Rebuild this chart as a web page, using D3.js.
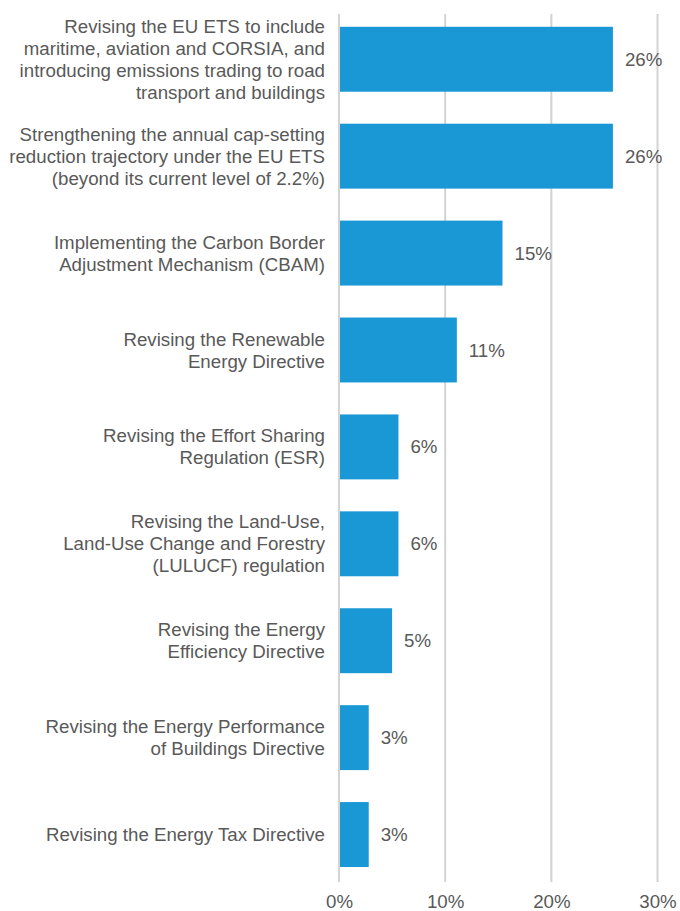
<!DOCTYPE html>
<html>
<head>
<meta charset="utf-8">
<script src="https://cdn.jsdelivr.net/npm/d3@7"></script>
<style>
  html, body { margin: 0; padding: 0; background: #fff; }
  svg { display: block; }
  text { font-family: "Liberation Sans", Arial, Helvetica, sans-serif; fill: #595959; }
</style>
</head>
<body>
<svg id="chart" width="680" height="911"></svg>
<script>
const categories = [
  ["Revising the EU ETS to include", "maritime, aviation and CORSIA, and", "introducing emissions trading to road", "transport and buildings"],
  ["Strengthening the annual cap-setting", "reduction trajectory under the EU ETS", "(beyond its current level of 2.2%)"],
  ["Implementing the Carbon Border", "Adjustment Mechanism (CBAM)"],
  ["Revising the Renewable", "Energy Directive"],
  ["Revising the Effort Sharing", "Regulation (ESR)"],
  ["Revising the Land-Use,", "Land-Use Change and Forestry", "(LULUCF) regulation"],
  ["Revising the Energy", "Efficiency Directive"],
  ["Revising the Energy Performance", "of Buildings Directive"],
  ["Revising the Energy Tax Directive"]
];
const values = [25.8, 25.8, 15.4, 11.1, 5.6, 5.6, 5.0, 2.8, 2.8];
const valueLabels = ["26%", "26%", "15%", "11%", "6%", "6%", "5%", "3%", "3%"];
const xTicks = [0, 10, 20, 30];
const xTickLabels = ["0%", "10%", "20%", "30%"];

const svg = d3.select("#chart");
const fontSize = 18.7;
const lineH = 22;

const x = d3.scaleLinear().domain([0, 30]).range([339, 657.5]);
const y = d3.scaleBand()
  .domain(d3.range(categories.length))
  .range([10.8, 883])
  .paddingInner(0.33)
  .paddingOuter(0.165);

// gridlines
svg.append("g").selectAll("line").data(xTicks).join("line")
  .attr("x1", d => x(d)).attr("x2", d => x(d))
  .attr("y1", 14).attr("y2", 882)
  .attr("stroke", "#d3d3d3").attr("stroke-width", 2);

// bars
svg.append("g").selectAll("rect").data(values).join("rect")
  .attr("x", x(0) + 1)
  .attr("y", (d, i) => y(i))
  .attr("width", d => x(d) - x(0) - 1)
  .attr("height", y.bandwidth())
  .attr("fill", "#1a98d6");

// value labels
svg.append("g").selectAll("text").data(values).join("text")
  .attr("x", d => x(d) + 12)
  .attr("y", (d, i) => y(i) + y.bandwidth() / 2)
  .attr("dy", "0.35em")
  .attr("font-size", fontSize)
  .text((d, i) => valueLabels[i]);

// category labels
const cat = svg.append("g").selectAll("text").data(categories).join("text")
  .attr("text-anchor", "end")
  .attr("font-size", fontSize)
  .attr("y", (d, i) => y(i) + y.bandwidth() / 2);
cat.each(function(lines) {
  const t = d3.select(this);
  const n = lines.length;
  lines.forEach((ln, k) => {
    t.append("tspan")
      .attr("x", 325)
      .attr("dy", k === 0 ? ((-(n - 1) / 2) * lineH + 0.35 * fontSize) : lineH)
      .text(ln);
  });
});

// x axis tick labels
const xAxis = d3.axisBottom(x).tickValues(xTicks).tickSize(0).tickPadding(0)
  .tickFormat((d, i) => xTickLabels[i]);
const ax = svg.append("g").attr("transform", "translate(0,908)").call(xAxis);
ax.select(".domain").remove();
ax.selectAll("text")
  .attr("font-size", fontSize)
  .attr("font-family", null)
  .attr("fill", "#595959")
  .attr("y", 0)
  .attr("dy", 0);
</script>
</body>
</html>
